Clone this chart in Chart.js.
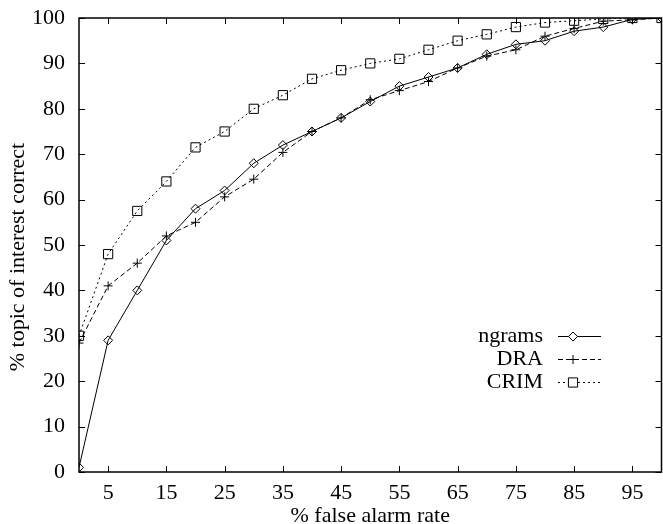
<!DOCTYPE html>
<html>
<head>
<meta charset="utf-8">
<script src="https://cdn.jsdelivr.net/npm/chart.js@4/dist/chart.umd.min.js"></script>
<style>
  html, body { margin: 0; padding: 0; background: #fff; overflow: hidden; }
  #wrap { width: 663px; height: 524px; position: relative; overflow: hidden; }
  canvas { display: block; }
</style>
</head>
<body>
<div id="wrap"><canvas id="c" width="663" height="524"></canvas></div>
<script>
const falseAlarm = [0, 5, 10, 15, 20, 25, 30, 35, 40, 45, 50, 55, 60, 65, 70, 75, 80, 85, 90, 95, 100];
const ngrams = [1, 29, 40, 51, 58, 62, 68, 72, 75, 78, 81.6, 85, 87, 89, 92, 94.2, 95, 97.1, 98, 99.7, 100];
const dra    = [28.4, 41, 46, 52, 55, 60.6, 64.5, 70.4, 75, 78, 82, 84, 86, 89, 91.6, 93, 96, 97.7, 99.3, 99.6, 100];
const crim   = [30, 48, 57.5, 64, 71.5, 75, 80, 83, 86.6, 88.5, 90, 91, 93, 95, 96.4, 98, 99, 99.4, 99.8, 100, 100];
const xTickValues = [5, 15, 25, 35, 45, 55, 65, 75, 85, 95];
const yTickValues = [0, 10, 20, 30, 40, 50, 60, 70, 80, 90, 100];
const seriesNames = ['ngrams', 'DRA', 'CRIM'];
const xTitle = '% false alarm rate';
const yTitle = '% topic of interest correct';

const FONT = "'Liberation Serif', 'Times New Roman', serif";
const FSIZE = 22;

function toPts(arr) { return falseAlarm.map((x, i) => ({ x: x, y: arr[i] })); }

const framePlugin = {
  id: 'frame',
  afterDraw(chart) {
    const ctx = chart.ctx;
    const a = chart.chartArea;
    const xs = chart.scales.x, ys = chart.scales.y;
    ctx.save();
    ctx.strokeStyle = '#000';
    ctx.lineWidth = 1.5;
    ctx.strokeRect(a.left, a.top, a.right - a.left, a.bottom - a.top);
    ctx.lineWidth = 1;
    const tl = 6;
    ctx.beginPath();
    xTickValues.forEach(v => {
      const px = Math.round(xs.getPixelForValue(v)) + 0.5;
      ctx.moveTo(px, a.bottom); ctx.lineTo(px, a.bottom - tl);
      ctx.moveTo(px, a.top); ctx.lineTo(px, a.top + tl);
    });
    yTickValues.forEach(v => {
      const py = Math.round(ys.getPixelForValue(v)) + 0.5;
      ctx.moveTo(a.left, py); ctx.lineTo(a.left + tl, py);
      ctx.moveTo(a.right, py); ctx.lineTo(a.right - tl, py);
    });
    ctx.stroke();

    ctx.fillStyle = '#000';
    ctx.font = FSIZE + 'px ' + FONT;
    ctx.textAlign = 'center';
    ctx.textBaseline = 'middle';
    ctx.fillText(xTitle, (a.left + a.right) / 2, 516);
    ctx.save();
    ctx.translate(18, 257);
    ctx.rotate(-Math.PI / 2);
    ctx.fillText(yTitle, 0, 0);
    ctx.restore();

    chart.data.datasets.forEach((ds, i) => {
      const y = 336 + i * 23;
      ctx.textAlign = 'right';
      ctx.fillText(ds.label, 543, y);
      ctx.save();
      ctx.strokeStyle = ds.borderColor;
      ctx.lineWidth = ds.borderWidth;
      ctx.setLineDash(ds.borderDash || []);
      ctx.beginPath();
      ctx.moveTo(558, y + 0.5); ctx.lineTo(601, y + 0.5);
      ctx.stroke();
      ctx.setLineDash([]);
      if (Chart.helpers && Chart.helpers.drawPoint) {
        ctx.fillStyle = '#fff';
        ctx.lineWidth = 1;
        Chart.helpers.drawPoint(ctx, { pointStyle: ds.pointStyle, radius: ds.pointRadius, rotation: 0, borderWidth: 1 }, 573, y + 0.5);
      }
      ctx.restore();
    });
    ctx.restore();
  }
};

const common = { borderColor: '#000', borderWidth: 1, pointBorderColor: '#000', pointBackgroundColor: 'rgba(255,255,255,0)', pointBorderWidth: 1, tension: 0, fill: false };

function zeroPad(s) { s.paddingTop = 0; s.paddingBottom = 0; s.paddingLeft = 0; s.paddingRight = 0; }

new Chart(document.getElementById('c'), {
  type: 'line',
  data: {
    datasets: [
      Object.assign({ label: seriesNames[0], data: toPts(ngrams), pointStyle: 'rectRot', pointRadius: 4.5, borderDash: [] }, common),
      Object.assign({ label: seriesNames[1], data: toPts(dra), pointStyle: 'cross', pointRadius: 4.5, borderDash: [5, 3] }, common),
      Object.assign({ label: seriesNames[2], data: toPts(crim), pointStyle: 'rect', pointRadius: 6.5, borderDash: [2, 3] }, common)
    ]
  },
  options: {
    responsive: false,
    animation: false,
    layout: { autoPadding: false, padding: { top: 18, right: 1.5, left: 0, bottom: 0 } },
    plugins: { legend: { display: false }, tooltip: { enabled: false }, title: { display: false } },
    scales: {
      x: {
        type: 'linear', min: 0, max: 100,
        afterBuildTicks: s => { s.ticks = xTickValues.map(v => ({ value: v })); },
        afterFit: s => { s.height = 52; zeroPad(s); },
        grid: { display: false, drawTicks: false },
        border: { display: false },
        ticks: { color: '#000', font: { family: FONT, size: FSIZE }, padding: 8, maxRotation: 0, autoSkip: false }
      },
      y: {
        type: 'linear', min: 0, max: 100,
        afterBuildTicks: s => { s.ticks = yTickValues.map(v => ({ value: v })); },
        afterFit: s => { s.width = 79; zeroPad(s); },
        grid: { display: false, drawTicks: false },
        border: { display: false },
        ticks: { color: '#000', font: { family: FONT, size: FSIZE }, padding: 14, autoSkip: false }
      }
    }
  },
  plugins: [framePlugin]
});
</script>
</body>
</html>
